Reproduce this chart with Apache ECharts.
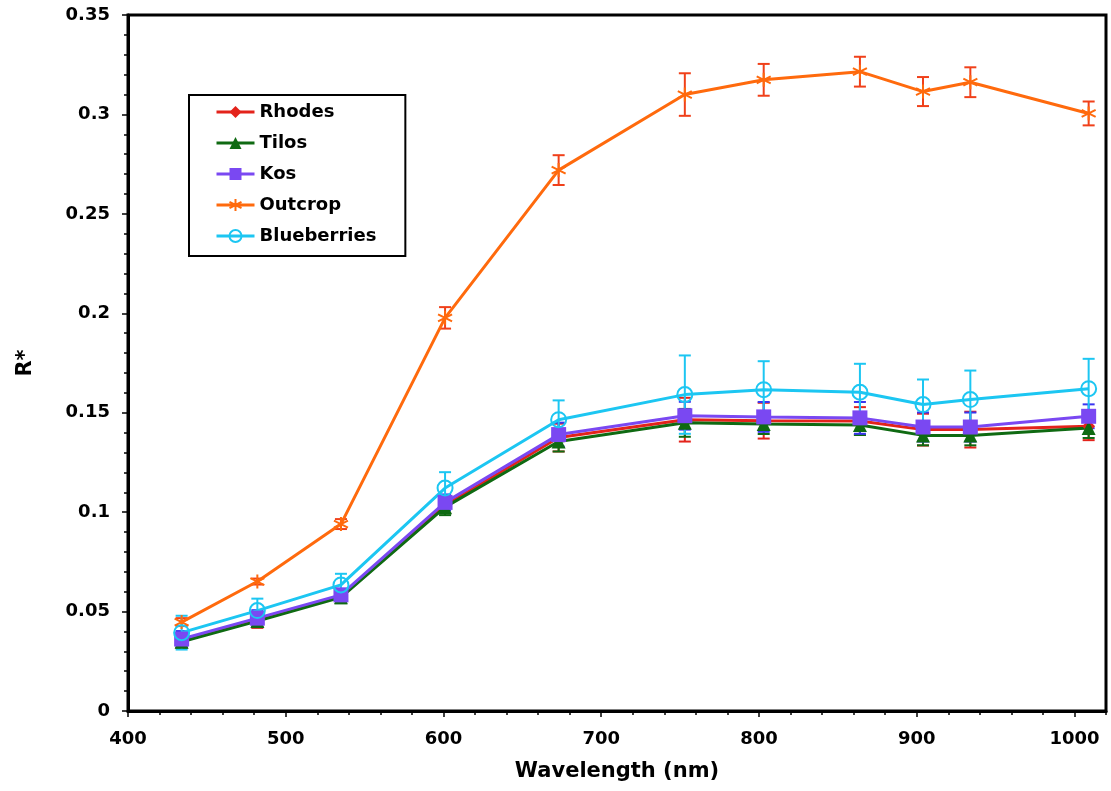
<!DOCTYPE html>
<html>
<head>
<meta charset="utf-8">
<script src="https://cdn.jsdelivr.net/npm/echarts@6/dist/echarts.min.js"></script>
<style>
html,body{margin:0;padding:0;background:#fff;}
#chart{width:1111px;height:791px;}
</style>
</head>
<body>
<div id="chart"></div>
<script>
// ---- data ----
const wavelengths = [434, 482, 535, 601, 673, 753, 803, 864, 904, 934, 1009];

const rhodes     = [0.0352, 0.0458, 0.0578, 0.1035, 0.1375, 0.1465, 0.1460, 0.1458, 0.1415, 0.1415, 0.1432];
const rhodesErr  = [0.0035, 0.0040, 0.0030, 0.0040, 0.0070, 0.0110, 0.0090, 0.0070, 0.0080, 0.0090, 0.0070];

const tilos      = [0.0348, 0.0452, 0.0572, 0.1025, 0.1355, 0.1449, 0.1443, 0.1438, 0.1386, 0.1386, 0.1423];
const tilosErr   = [0.0030, 0.0030, 0.0030, 0.0040, 0.0050, 0.0070, 0.0050, 0.0050, 0.0050, 0.0050, 0.0050];

const kos        = [0.0362, 0.0467, 0.0584, 0.1049, 0.1390, 0.1485, 0.1479, 0.1474, 0.1428, 0.1428, 0.1482];
const kosErr     = [0.0040, 0.0040, 0.0030, 0.0040, 0.0060, 0.0070, 0.0075, 0.0080, 0.0073, 0.0073, 0.0060];

const outcrop    = [0.0447, 0.0651, 0.0940, 0.1977, 0.2720, 0.3100, 0.3174, 0.3215, 0.3115, 0.3162, 0.3005];
const outcropErr = [0.0020, 0.0015, 0.0025, 0.0054, 0.0075, 0.0107, 0.0080, 0.0075, 0.0073, 0.0075, 0.0060];

const blueberries    = [0.0394, 0.0505, 0.0634, 0.1121, 0.1465, 0.1591, 0.1616, 0.1603, 0.1541, 0.1566, 0.1621];
const blueberriesErr = [0.0085, 0.0060, 0.0056, 0.0080, 0.0097, 0.0197, 0.0143, 0.0143, 0.0126, 0.0146, 0.0150];

const seriesNames = ['Rhodes', 'Tilos', 'Kos', 'Outcrop', 'Blueberries'];
const xMajorTicks = [400, 500, 600, 700, 800, 900, 1000];
const xMinorTicks = [420, 440, 460, 480, 520, 540, 560, 580, 620, 640, 660, 680, 720, 740, 760, 780,
                     820, 840, 860, 880, 920, 940, 960, 980, 1020];

// ---- styling ----
const FONT = 'DejaVu Sans';
const colors = {
  Rhodes: '#e3231b', Tilos: '#0f6a12', Kos: '#7a48f2', Outcrop: '#ff6a0d', Blueberries: '#1cc6f2'
};
const errColors = {
  Rhodes: '#e3231b', Tilos: '#0f6a12', Kos: '#3b35f0', Outcrop: '#f0401a', Blueberries: '#1cc6f2'
};
const asterisk = 'path://M0,-10L0,10M-8.66,-5L8.66,5M-8.66,5L8.66,-5';

function pairs(vals) { return wavelengths.map((w, i) => [w, vals[i]]); }
function errData(vals, errs) { return wavelengths.map((w, i) => [w, vals[i] - errs[i], vals[i] + errs[i]]); }

function errSeries(name, vals, errs) {
  return {
    type: 'custom',
    name: name + ' err',
    z: 3,
    silent: true,
    data: errData(vals, errs),
    encode: { x: 0, y: [1, 2] },
    renderItem: function (params, api) {
      const x = api.value(0);
      const lo = api.coord([x, api.value(1)]);
      const hi = api.coord([x, api.value(2)]);
      const hw = 6;
      const st = { stroke: errColors[name], lineWidth: 2, fill: null };
      return {
        type: 'group',
        children: [
          { type: 'line', shape: { x1: lo[0], y1: lo[1], x2: hi[0], y2: hi[1] }, style: st },
          { type: 'line', shape: { x1: lo[0] - hw, y1: lo[1], x2: lo[0] + hw, y2: lo[1] }, style: st },
          { type: 'line', shape: { x1: hi[0] - hw, y1: hi[1], x2: hi[0] + hw, y2: hi[1] }, style: st }
        ]
      };
    }
  };
}

function lineSeries(name, vals, symbol, size, extraItem) {
  return {
    type: 'line',
    name: name,
    z: 4,
    data: pairs(vals),
    symbol: symbol,
    symbolSize: size,
    showAllSymbol: true,
    lineStyle: { color: colors[name], width: 3 },
    itemStyle: Object.assign({ color: colors[name], opacity: 1 }, extraItem || {}),
    emphasis: { disabled: true }
  };
}

const chart = echarts.init(document.getElementById('chart'), null, { renderer: 'canvas' });

const option = {
  backgroundColor: '#ffffff',
  animation: false,
  textStyle: { fontFamily: FONT },
  grid: {
    left: 128, right: 5, top: 15, bottom: 80,
    show: true, borderColor: '#000', borderWidth: 3, backgroundColor: 'transparent'
  },
  legend: {
    orient: 'vertical',
    left: 189, top: 95,
    data: seriesNames,
    backgroundColor: '#fff',
    borderColor: '#000',
    borderWidth: 2,
    borderRadius: 0,
    padding: [8, 29, 11, 26],
    itemWidth: 38,
    itemHeight: 15,
    itemGap: 13,
    lineStyle: { width: 3 },
    textStyle: { fontFamily: FONT, fontWeight: 'bold', fontSize: 18, color: '#000' }
  },
  xAxis: [{
    type: 'value',
    min: 400, max: 1020,
    interval: 100,
    name: 'Wavelength (nm)',
    nameLocation: 'middle',
    nameGap: 50,
    nameTextStyle: { fontFamily: FONT, fontWeight: 'bold', fontSize: 21, color: '#000' },
    axisLine: { show: true, lineStyle: { color: '#000', width: 3 } },
    axisTick: { show: true, length: 6, lineStyle: { color: '#000', width: 1.5 }, customValues: xMajorTicks },
    axisLabel: {
      margin: 19, fontFamily: FONT, fontWeight: 'bold', fontSize: 18, color: '#000',
      customValues: xMajorTicks, formatter: function (v) { return String(v); }
    },
    splitLine: { show: false }
  }, {
    type: 'value',
    position: 'bottom',
    min: 400, max: 1020,
    gridIndex: 0,
    axisLine: { show: false },
    axisTick: { show: true, length: 4, lineStyle: { color: '#000', width: 1.5 }, customValues: xMinorTicks },
    axisLabel: { show: false },
    splitLine: { show: false }
  }],
  yAxis: {
    type: 'value',
    min: 0, max: 0.35,
    interval: 0.05,
    name: 'R*',
    nameLocation: 'middle',
    nameGap: 92,
    nameTextStyle: { fontFamily: FONT, fontWeight: 'bold', fontSize: 21, color: '#000' },
    axisLine: { show: true, lineStyle: { color: '#000', width: 3 } },
    axisTick: { show: true, length: 6, lineStyle: { color: '#000', width: 1.5 } },
    minorTick: { show: true, splitNumber: 5, length: 4, lineStyle: { color: '#000', width: 1.5 } },
    axisLabel: { margin: 18, fontFamily: FONT, fontWeight: 'bold', fontSize: 18, color: '#000' },
    splitLine: { show: false }
  },
  series: [
    errSeries('Rhodes', rhodes, rhodesErr),
    errSeries('Tilos', tilos, tilosErr),
    errSeries('Kos', kos, kosErr),
    errSeries('Outcrop', outcrop, outcropErr),
    errSeries('Blueberries', blueberries, blueberriesErr),
    lineSeries('Rhodes', rhodes, 'diamond', 13),
    lineSeries('Tilos', tilos, 'triangle', 14),
    lineSeries('Kos', kos, 'rect', 15),
    lineSeries('Outcrop', outcrop, asterisk, 14, { color: colors.Outcrop, borderColor: colors.Outcrop, borderWidth: 2 }),
    lineSeries('Blueberries', blueberries, 'circle', 15, { color: 'rgba(255,255,255,0)', borderColor: colors.Blueberries, borderWidth: 2 })
  ]
};

chart.setOption(option);
</script>
</body>
</html>
